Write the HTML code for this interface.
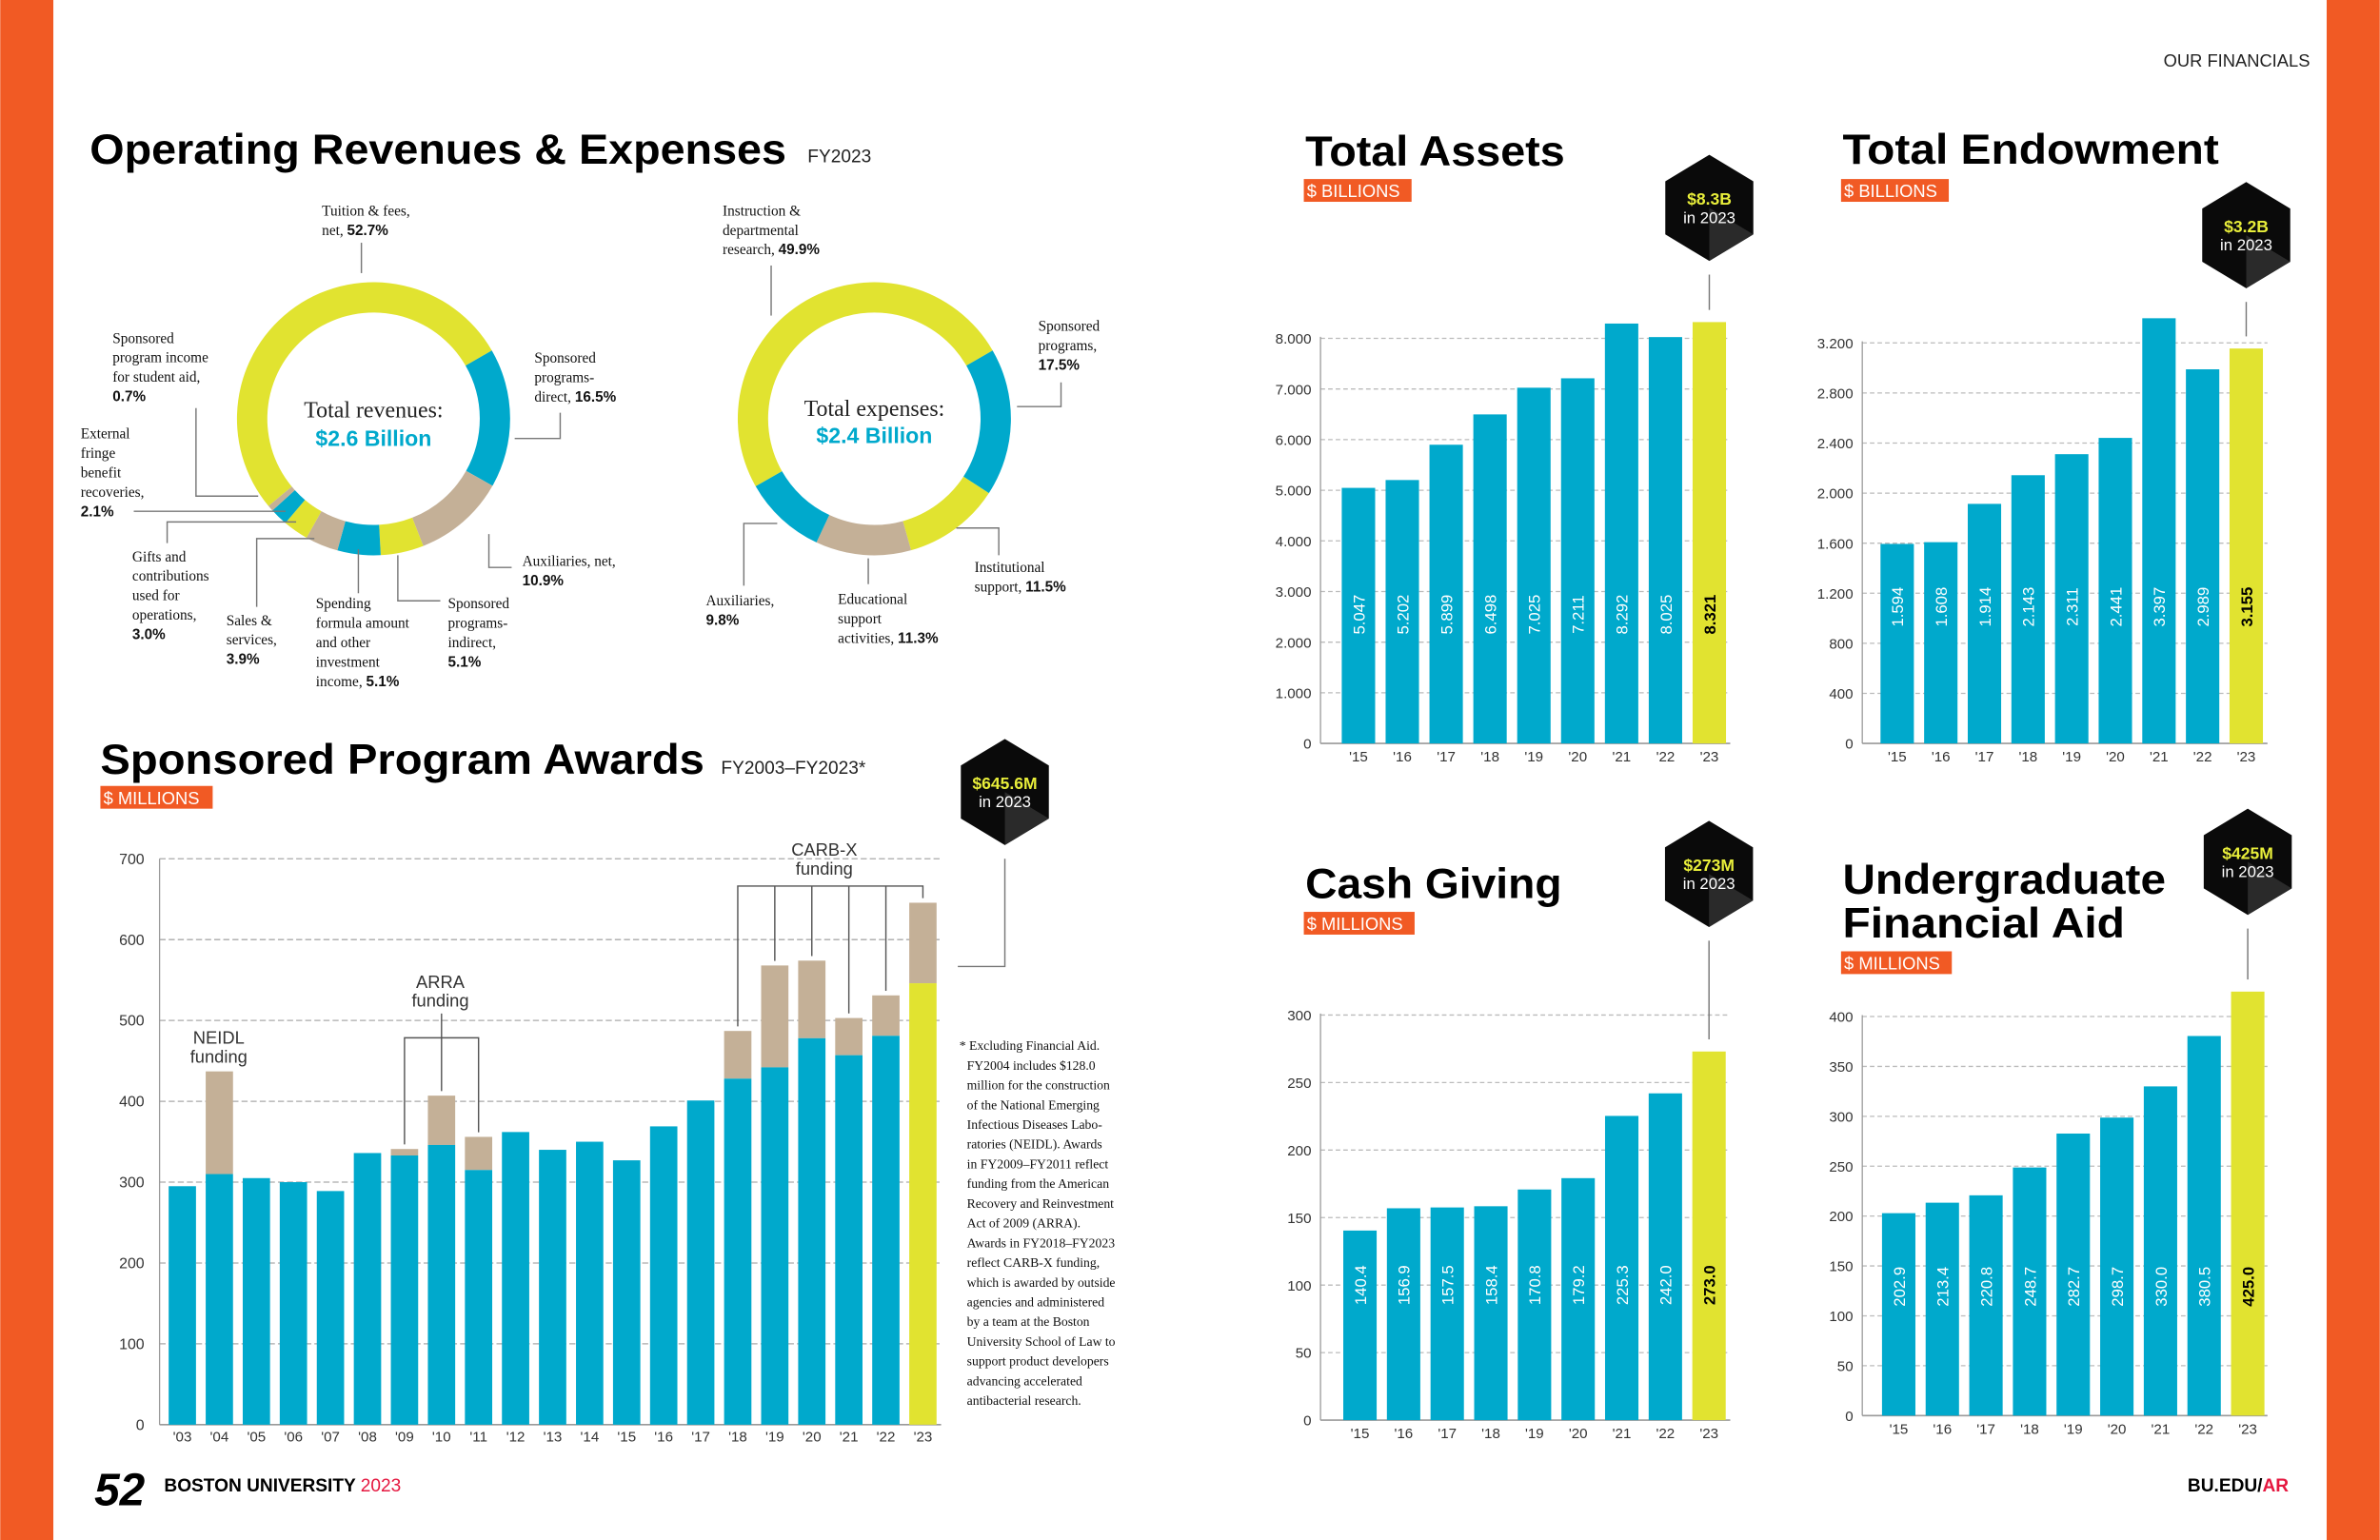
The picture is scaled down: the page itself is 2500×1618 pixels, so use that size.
<!DOCTYPE html>
<html><head><meta charset="utf-8"><style>
html,body{margin:0;padding:0;background:#fff;}
svg{display:block;}
.t{font-family:"Liberation Sans",sans-serif;}
.s{font-family:"Liberation Serif",serif;}
</style></head><body>
<svg id="pg" width="2500" height="1618" viewBox="0 0 1568 1015" xmlns="http://www.w3.org/2000/svg">
<rect x="0" y="0" width="1568" height="1015" fill="#fff"/>
<rect x="0" y="0" width="35" height="1015" fill="#f15a24"/>
<rect x="1533" y="0" width="35" height="1015" fill="#f15a24"/>
<text class="t" x="1522" y="44" font-size="11.5" text-anchor="end" fill="#222">OUR FINANCIALS</text>

<text class="t" x="59" y="108" font-size="28" font-weight="bold" fill="#000" textLength="459" lengthAdjust="spacingAndGlyphs">Operating Revenues &amp; Expenses</text>
<text class="t" x="532" y="107" font-size="12" fill="#222">FY2023</text>

<g id="donuts"></g>

<text class="t" x="66" y="510" font-size="28" font-weight="bold" fill="#000" textLength="398" lengthAdjust="spacingAndGlyphs">Sponsored Program Awards</text>
<text class="t" x="475" y="510" font-size="12" fill="#222">FY2003–FY2023*</text>
<rect x="66" y="518" width="74" height="15" fill="#f15a24"/>
<text class="t" x="68" y="530" font-size="11.5" fill="#fff">$ MILLIONS</text>
<g id="spc"></g>
<text class="s" font-size="8.6" fill="#111">
<tspan x="632" y="692">* Excluding Financial Aid.</tspan>
<tspan x="637" y="705">FY2004 includes $128.0</tspan>
<tspan x="637" y="718">million for the construction</tspan>
<tspan x="637" y="731">of the National Emerging</tspan>
<tspan x="637" y="744">Infectious Diseases Labo-</tspan>
<tspan x="637" y="757">ratories (NEIDL). Awards</tspan>
<tspan x="637" y="770">in FY2009–FY2011 reflect</tspan>
<tspan x="637" y="783">funding from the American</tspan>
<tspan x="637" y="796">Recovery and Reinvestment</tspan>
<tspan x="637" y="809">Act of 2009 (ARRA).</tspan>
<tspan x="637" y="822">Awards in FY2018–FY2023</tspan>
<tspan x="637" y="835">reflect CARB-X funding,</tspan>
<tspan x="637" y="848">which is awarded by outside</tspan>
<tspan x="637" y="861">agencies and administered</tspan>
<tspan x="637" y="874">by a team at the Boston</tspan>
<tspan x="637" y="887">University School of Law to</tspan>
<tspan x="637" y="900">support product developers</tspan>
<tspan x="637" y="913">advancing accelerated</tspan>
<tspan x="637" y="926">antibacterial research.</tspan>
</text>

<text class="t" x="860" y="109" font-size="28" font-weight="bold" textLength="171" lengthAdjust="spacingAndGlyphs">Total Assets</text>
<rect x="859" y="118" width="71" height="15" fill="#f15a24"/>
<text class="t" x="861" y="130" font-size="11.5" fill="#fff">$ BILLIONS</text>
<text class="t" x="1214" y="108" font-size="28" font-weight="bold" textLength="248" lengthAdjust="spacingAndGlyphs">Total Endowment</text>
<rect x="1213" y="118" width="71" height="15" fill="#f15a24"/>
<text class="t" x="1215" y="130" font-size="11.5" fill="#fff">$ BILLIONS</text>
<text class="t" x="860" y="592" font-size="28" font-weight="bold" textLength="169" lengthAdjust="spacingAndGlyphs">Cash Giving</text>
<rect x="859" y="601" width="73" height="15" fill="#f15a24"/>
<text class="t" x="861" y="613" font-size="11.5" fill="#fff">$ MILLIONS</text>
<text class="t" x="1214" y="589" font-size="28" font-weight="bold" textLength="213" lengthAdjust="spacingAndGlyphs">Undergraduate</text>
<text class="t" x="1214" y="618" font-size="28" font-weight="bold" textLength="186" lengthAdjust="spacingAndGlyphs">Financial Aid</text>
<rect x="1213" y="627" width="73" height="15" fill="#f15a24"/>
<text class="t" x="1215" y="639" font-size="11.5" fill="#fff">$ MILLIONS</text>
<g id="small"></g>

<text class="t" x="62" y="992" font-size="30" font-weight="bold" font-style="italic">52</text>
<text class="t" x="108" y="983" font-size="12" font-weight="bold">BOSTON UNIVERSITY <tspan fill="#e5173f" font-weight="normal">2023</tspan></text>
<text class="t" x="1508" y="983" font-size="12" font-weight="bold" text-anchor="end">BU.EDU/<tspan fill="#e5173f">AR</tspan></text>
</svg>
<script>
var NS="http://www.w3.org/2000/svg";
var BLUE="#00a9cc",YEL="#e1e330",TAN="#c4b097";
var revLabels=["Tuition & fees, net","Sponsored programs-direct","Auxiliaries, net","Sponsored programs-indirect","Spending formula","Sales & services","Gifts and contributions","External fringe","Sponsored program income"];
var revValues=[52.7,16.5,10.9,5.1,5.1,3.9,3.0,2.1,0.7];
var revColors=[YEL,BLUE,TAN,YEL,BLUE,TAN,YEL,BLUE,TAN];
var expLabels=["Instruction & departmental research","Sponsored programs","Institutional support","Educational support activities","Auxiliaries"];
var expValues=[49.9,17.5,11.5,11.3,9.8];
var expColors=[YEL,BLUE,YEL,TAN,BLUE];
var spYears=["'03","'04","'05","'06","'07","'08","'09","'10","'11","'12","'13","'14","'15","'16","'17","'18","'19","'20","'21","'22","'23"];
var spBase=[295,310,305,300,289,336,333,346,315,362,340,350,327,369,401,428,442,478,457,481,546];
var spTotal=[295,437,305,300,289,336,341,407,356,362,340,350,327,369,401,487,568,574,503,531,645.6];
var spTicks=[0,100,200,300,400,500,600,700];
var yrs=["'15","'16","'17","'18","'19","'20","'21","'22","'23"];
var assetsVals=[5047,5202,5899,6498,7025,7211,8292,8025,8321];
var assetsLabels=["5.047","5.202","5.899","6.498","7.025","7.211","8.292","8.025","8.321"];
var assetsTicks=[0,1000,2000,3000,4000,5000,6000,7000,8000];
var assetsTickLabels=["0","1.000","2.000","3.000","4.000","5.000","6.000","7.000","8.000"];
var endowVals=[1594,1608,1914,2143,2311,2441,3397,2989,3155];
var endowLabels=["1.594","1.608","1.914","2.143","2.311","2.441","3.397","2.989","3.155"];
var endowTicks=[0,400,800,1200,1600,2000,2400,2800,3200];
var endowTickLabels=["0","400","800","1.200","1.600","2.000","2.400","2.800","3.200"];
var cashVals=[140.4,156.9,157.5,158.4,170.8,179.2,225.3,242.0,273.0];
var cashTicks=[0,50,100,150,200,250,300];
var aidVals=[202.9,213.4,220.8,248.7,282.7,298.7,330.0,380.5,425.0];
var aidTicks=[0,50,100,150,200,250,300,350,400];

function mk(parent,tag,a,txt){var e=document.createElementNS(NS,tag);for(var k in a)e.setAttribute(k,a[k]);if(txt!=null)e.textContent=txt;parent.appendChild(e);return e;}

function arcPath(cx,cy,ro,ri,a0,a1){
  function p(r,a){var t=(a-90)*Math.PI/180;return [cx+r*Math.cos(t),cy+r*Math.sin(t)];}
  var lg=(a1-a0)>180?1:0;var A=p(ro,a0),B=p(ro,a1),C=p(ri,a1),D=p(ri,a0);
  return "M"+A+"A"+ro+","+ro+" 0 "+lg+" 1 "+B+"L"+C+"A"+ri+","+ri+" 0 "+lg+" 0 "+D+"Z";
}
function donut(g,cx,cy,vals,cols,names,startAng,prefix){
  var a=startAng;
  for(var i=0;i<vals.length;i++){var s=vals[i]*3.6;
    var e=mk(g,"path",{d:arcPath(cx,cy,90,70,a,a+s),fill:cols[i]});
    
    
    a+=s;}
}
var dg=document.getElementById("donuts");
donut(dg,246,276,revValues,revColors,revLabels,60-revValues[0]*3.6,"revenue");
donut(dg,576,276,expValues,expColors,expLabels,60-expValues[0]*3.6,"expense");
function lbl(x,y,lines,name,anchor){
  var t=mk(dg,"text",{"class":"s","font-size":"9.6",fill:"#111","text-anchor":anchor||"start"});
  
  
  lines.forEach(function(l,i){var ts=mk(t,"tspan",{x:x,y:y+i*12.8});
    if(l.indexOf("|")>=0){var p=l.split("|");if(p[0])mk(ts,"tspan",{},p[0]);mk(ts,"tspan",{"font-weight":"bold","font-family":"Liberation Sans"},p[1]);}else ts.textContent=l;});
}
function ln(pts,name){var e=mk(dg,"polyline",{points:pts,fill:"none",stroke:"#777","stroke-width":"0.9"});
  }
var c1=mk(dg,"text",{"class":"s",x:246,y:275,"font-size":"15","text-anchor":"middle",fill:"#222"},"Total revenues:");

var c2=mk(dg,"text",{"class":"t",x:246,y:294,"font-size":"14.5","font-weight":"bold","text-anchor":"middle",fill:BLUE},"$2.6 Billion");

var c3=mk(dg,"text",{"class":"s",x:576,y:274,"font-size":"15","text-anchor":"middle",fill:"#222"},"Total expenses:");

var c4=mk(dg,"text",{"class":"t",x:576,y:292,"font-size":"14.5","font-weight":"bold","text-anchor":"middle",fill:BLUE},"$2.4 Billion");

lbl(212,142,["Tuition & fees,","net, |52.7%"],"label-tuition");
ln("238,160 238,180","leader-tuition");
lbl(352,239,["Sponsored","programs-","direct, |16.5%"],"label-sp-direct");
ln("369,272 369,289 339,289","leader-sp-direct");
lbl(344,373,["Auxiliaries, net,","|10.9%"],"label-aux-net");
ln("337,374 322,374 322,352","leader-aux-net");
lbl(295,401,["Sponsored","programs-","indirect,","|5.1%"],"label-sp-indirect");
ln("290,396 262,396 262,366","leader-sp-indirect");
lbl(208,401,["Spending","formula amount","and other","investment","income, |5.1%"],"label-spending");
ln("236,391 236,362","leader-spending");
lbl(149,412,["Sales &","services,","|3.9%"],"label-sales");
ln("169,400 169,355 207,355","leader-sales");
lbl(87,370,["Gifts and","contributions","used for","operations,","|3.0%"],"label-gifts");
ln("110,358 110,344 195,344","leader-gifts");
lbl(53,289,["External","fringe","benefit","recoveries,","|2.1%"],"label-fringe");
ln("88,337 188,337","leader-fringe");
lbl(74,226,["Sponsored","program income","for student aid,","|0.7%"],"label-sp-income");
ln("129,269 129,327 170,327","leader-sp-income");
lbl(476,142,["Instruction &","departmental","research, |49.9%"],"label-instruction");
ln("508,175 508,208","leader-instruction");
lbl(684,218,["Sponsored","programs,","|17.5%"],"label-exp-sp");
ln("699,252 699,268 670,268","leader-exp-sp");
lbl(642,377,["Institutional","support, |11.5%"],"label-inst");
ln("658,366 658,348 630,348","leader-inst");
lbl(552,398,["Educational","support","activities, |11.3%"],"label-edu");
ln("572,385 572,368","leader-edu");
lbl(465,399,["Auxiliaries,","|9.8%"],"label-exp-aux");
ln("490,386 490,345 512,345","leader-exp-aux");

function hexBadge(g,cx,cy,big,name){
  var w=29,h=35;
  var pts=[[cx,cy-h],[cx+w,cy-h/2],[cx+w,cy+h/2],[cx,cy+h],[cx-w,cy+h/2],[cx-w,cy-h/2]].map(function(p){return p.join(",")}).join(" ");
  var hx=mk(g,"polygon",{points:pts,fill:"#0a0a0a"});
  
  var sh=mk(g,"polygon",{points:[[cx,cy],[cx+w,cy+h/2],[cx,cy+h]].map(function(p){return p.join(",")}).join(" "),fill:"#2a2a2a"});
  
  var t1=mk(g,"text",{"class":"t",x:cx,y:cy-2,"font-size":"11","font-weight":"bold","text-anchor":"middle",fill:"#e8ee3a"},big);
  
  var t2=mk(g,"text",{"class":"t",x:cx,y:cy+10,"font-size":"10.5","text-anchor":"middle",fill:"#fff"},"in 2023");
  
}

(function(){
  var g=document.getElementById("spc");
  var y0=939,yTop=566,vMax=700,xL=105,xR=620,x0=120,step=24.4,bw=18;
  function Y(v){return y0-v/vMax*(y0-yTop);}
  function X(i){return x0+i*step;}
  spTicks.forEach(function(t,i){
    var tl=mk(g,"text",{"class":"t",x:95,y:Y(t)+3.5,"font-size":"10","text-anchor":"end",fill:"#333"},String(t));
    
    if(t>0){var gl=mk(g,"line",{x1:xL,x2:xR,y1:Y(t),y2:Y(t),stroke:"#aaa","stroke-dasharray":"4,2","stroke-width":"0.8"});
    }
  });
  var ax=mk(g,"line",{x1:xL,x2:xL,y1:yTop,y2:y0,stroke:"#999","stroke-width":"0.8"});
  
  var bl=mk(g,"line",{x1:xL,x2:xR,y1:y0,y2:y0,stroke:"#999","stroke-width":"1"});
  
  for(var i=0;i<spYears.length;i++){
    var last=i==spYears.length-1;
    if(spTotal[i]>spBase[i]){var tb=mk(g,"rect",{x:X(i)-bw/2,y:Y(spTotal[i]),width:bw,height:Y(spBase[i])-Y(spTotal[i]),fill:TAN});
      }
    var b=mk(g,"rect",{x:X(i)-bw/2,y:Y(spBase[i]),width:bw,height:y0-Y(spBase[i]),fill:last?YEL:BLUE});
    
    var xl=mk(g,"text",{"class":"t",x:X(i),y:950,"font-size":"9.5","text-anchor":"middle",fill:"#333"},spYears[i]);
    
  }
  function ann(lines,x,y,name){var t=mk(g,"text",{"class":"t","font-size":"11.5","text-anchor":"middle",fill:"#333"});
    
    lines.forEach(function(l,k){mk(t,"tspan",{x:x,y:y+k*12.5},l);});}
  ann(["NEIDL","funding"],144,688,"neidl-annotation");
  ann(["ARRA","funding"],290,651,"arra-annotation");
  ann(["CARB-X","funding"],543,564,"carbx-annotation");
  function bracket(i0,i1,yb,top,name){
    var p=mk(g,"polyline",{points:X(i0)+","+(Y(spTotal[i0])-3)+" "+X(i0)+","+yb+" "+X(i1)+","+yb+" "+X(i1)+","+(Y(spTotal[i1])-3),fill:"none",stroke:"#555","stroke-width":"0.9"});
    
    for(var k=i0+1;k<i1;k++){var v=mk(g,"line",{x1:X(k),x2:X(k),y1:yb,y2:Y(spTotal[k])-3,stroke:"#555","stroke-width":"0.9"});
      }
    if(top){var c=mk(g,"line",{x1:(X(i0)+X(i1))/2,x2:(X(i0)+X(i1))/2,y1:top,y2:yb,stroke:"#555","stroke-width":"0.9"});
      }
  }
  bracket(6,8,684,668,"arra-bracket");
  bracket(15,20,584,0,"carbx-bracket");
  var ld=mk(g,"polyline",{points:"662,566 662,637 631,637",fill:"none",stroke:"#777","stroke-width":"0.9"});
  
  hexBadge(g,662,522,"$645.6M","sp-badge");
})();

function small(cfg){
  var g=document.getElementById("small");
  var gg=mk(g,"g",{});
  
  function Y(v){return cfg.y0-v/cfg.vMax*(cfg.y0-cfg.yTop);}
  function X(i){return cfg.x0+i*cfg.step;}
  cfg.ticks.forEach(function(t,i){
    var tl=mk(gg,"text",{"class":"t",x:cfg.xL-6,y:Y(t)+3.5,"font-size":"9.5","text-anchor":"end",fill:"#333"},cfg.tickLabels?cfg.tickLabels[i]:String(t));
    
    if(t>0){var gl=mk(gg,"line",{x1:cfg.xL,x2:cfg.xR,y1:Y(t),y2:Y(t),stroke:"#bbb","stroke-dasharray":"3,2","stroke-width":"0.8"});
      }
  });
  var ax=mk(gg,"line",{x1:cfg.xL,x2:cfg.xL,y1:Y(cfg.ticks[cfg.ticks.length-1])-1,y2:cfg.y0,stroke:"#999","stroke-width":"0.8"});
  
  var bl=mk(gg,"line",{x1:cfg.xL,x2:cfg.xR,y1:cfg.y0,y2:cfg.y0,stroke:"#999","stroke-width":"1"});
  
  for(var i=0;i<cfg.vals.length;i++){
    var last=i==cfg.vals.length-1;
    var b=mk(gg,"rect",{x:X(i)-11,y:Y(cfg.vals[i]),width:22,height:cfg.y0-Y(cfg.vals[i]),fill:last?YEL:BLUE});
    
    var lab=cfg.labels?cfg.labels[i]:cfg.vals[i].toFixed(1);
    var vt=mk(gg,"text",{"class":"t",x:0,y:0,"font-size":"10.5","font-weight":last?"bold":"normal","text-anchor":"middle",fill:last?"#000":"#fff",transform:"translate("+(X(i)+4)+","+cfg.labelY+") rotate(-90)"},lab);
    
    var xl=mk(gg,"text",{"class":"t",x:X(i),y:cfg.y0+12,"font-size":"9.5","text-anchor":"middle",fill:"#333"},yrs[i]);
    
  }
  var lx=X(cfg.vals.length-1);
  var ld=mk(gg,"line",{x1:lx,x2:lx,y1:cfg.hy+44,y2:Y(cfg.vals[cfg.vals.length-1])-8,stroke:"#777","stroke-width":"0.9"});
  
  hexBadge(gg,lx,cfg.hy,cfg.badge,cfg.name+'-badge');
}
small({name:"assets",vals:assetsVals,labels:assetsLabels,ticks:assetsTicks,tickLabels:assetsTickLabels,vMax:8000,y0:490,yTop:223,xL:870,xR:1140,x0:895,step:28.9,labelY:405,hy:137,badge:"$8.3B"});
small({name:"endowment",vals:endowVals,labels:endowLabels,ticks:endowTicks,tickLabels:endowTickLabels,vMax:3200,y0:490,yTop:226,xL:1227,xR:1494,x0:1250,step:28.75,labelY:400,hy:155,badge:"$3.2B"});
small({name:"cash-giving",vals:cashVals,ticks:cashTicks,vMax:300,y0:936,yTop:669,xL:870,xR:1140,x0:896,step:28.75,labelY:847,hy:576,badge:"$273M"});
small({name:"financial-aid",vals:aidVals,ticks:aidTicks,vMax:400,y0:933,yTop:670,xL:1227,xR:1494,x0:1251,step:28.75,labelY:848,hy:568,badge:"$425M"});
</script>
</body></html>
